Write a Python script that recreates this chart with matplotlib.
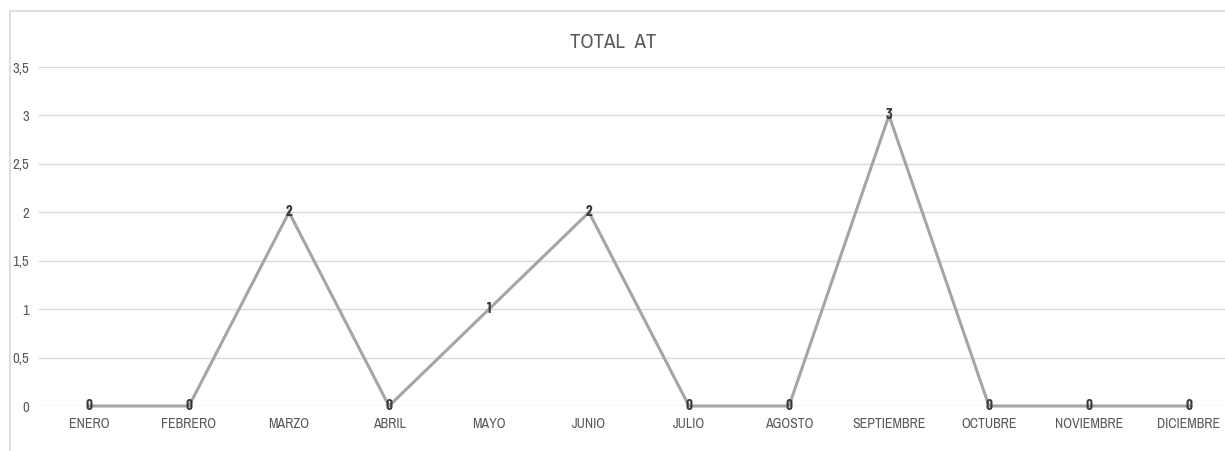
import matplotlib
matplotlib.use("Agg")
import matplotlib.pyplot as plt
from matplotlib import font_manager
from matplotlib.patches import Rectangle

months = ["ENERO", "FEBRERO", "MARZO", "ABRIL", "MAYO", "JUNIO", "JULIO",
          "AGOSTO", "SEPTIEMBRE", "OCTUBRE", "NOVIEMBRE", "DICIEMBRE"]
totals = [0, 0, 2, 0, 1, 2, 0, 0, 3, 0, 0, 0]
y_ticks = [0, 0.5, 1, 1.5, 2, 2.5, 3, 3.5]
title = "TOTAL  AT"

available = {f.name for f in font_manager.fontManager.ttflist}


def pick(candidates):
    return next((n for n in candidates if n in available), "DejaVu Sans")


narrow = pick(["Liberation Sans Narrow", "Archivo Narrow", "Carlito",
               "Asap Condensed", "DejaVu Sans"])
bold_narrow = pick(["Barlow Condensed", "Asap Condensed", "Archivo Narrow",
                    "DejaVu Sans"])

W, H = 1225, 451
fig = plt.figure(figsize=(W / 100, H / 100), dpi=100)

# outer chart border
fig.patches.append(Rectangle((10 / W, -0.1), 1.2, (H - 11) / H + 0.1,
                             transform=fig.transFigure, fill=False,
                             edgecolor="#d9d9d9", linewidth=1.2))

ax = fig.add_axes([39 / W, (H - 406) / H, 1200 / W, 339 / H])
ax.set_xlim(-0.5, len(months) - 0.5)
ax.set_ylim(0, 3.5)

x = list(range(len(months)))
ax.plot(x, totals, color="#a5a5a5", linewidth=2.2, solid_joinstyle="miter",
        zorder=3, clip_on=False)

for xi, v in zip(x, totals):
    ax.text(xi, v, f"{v}", ha="center", va="center", fontsize=11,
            fontweight="bold", color="#3a3a3a", family=bold_narrow, zorder=4)

ax.set_yticks(y_ticks)
ax.set_yticklabels([f"{t:g}".replace(".", ",") for t in y_ticks],
                   fontsize=10.5, color="#595959", family=narrow)
ax.set_xticks(x)
ax.set_xticklabels(months, fontsize=10, color="#595959", family=narrow)
ax.tick_params(axis="both", length=0)
ax.tick_params(axis="x", pad=8)
ax.tick_params(axis="y", pad=7)
ax.grid(axis="y", color="#d9d9d9", linewidth=1)
ax.set_axisbelow(True)
for s in ax.spines.values():
    s.set_visible(False)

fig.text(613 / W, 1 - 43 / H, title, ha="center", va="center",
         fontsize=15, color="#595959", family=narrow)

fig.savefig("out.png", dpi=100)
